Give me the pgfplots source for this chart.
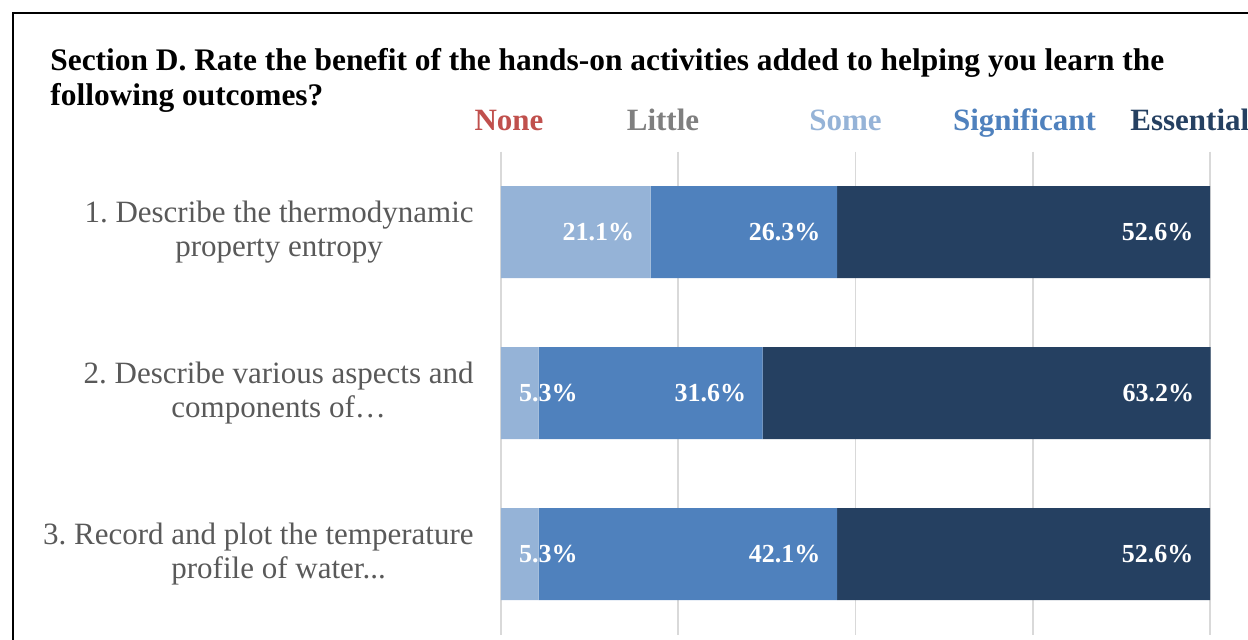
\documentclass[border=0pt]{standalone}
\usepackage{pgfplots}
\pgfplotsset{compat=1.18}
\usepackage{fontspec}
\setmainfont{Liberation Serif}
\frenchspacing
\definecolor{cNone}{HTML}{C0504D}
\definecolor{cLittle}{HTML}{7F7F7F}
\definecolor{cSome}{HTML}{95B3D7}
\definecolor{cSig}{HTML}{4F81BD}
\definecolor{cEss}{HTML}{254061}
\definecolor{cLabel}{HTML}{595959}
\definecolor{cGrid}{HTML}{D9D9D9}
% value labels: nodes sit at the middle of each segment; these boxes put the
% text flush right near the segment's end (half a percent unit = 1.7725pt)
\newdimen\pctunit \pctunit=1.7725pt
\newdimen\labD
\protected\def\lab#1{\labD=#1\pctunit \advance\labD by -8.5pt \hbox to\labD{\hss #1\%}}
\protected\def\inl#1{\hbox to 0pt{\kern-1pt #1\%\hss}}
\begin{document}
\begin{tikzpicture}[x=1pt,y=1pt]
\useasboundingbox (0,0) rectangle (624,319.5);
\draw[line width=1pt] (6.5,-5) -- (6.5,313) -- (640,313);
\node[anchor=base west, inner sep=0pt, font=\bfseries\fontsize{15.7}{17}\selectfont] at (25,284) {Section D. Rate the benefit of the hands-on activities added to helping you learn the};
\node[anchor=base west, inner sep=0pt, font=\bfseries\fontsize{15.7}{17}\selectfont] at (25,266.5) {following outcomes?};
\begin{axis}[
  at={(250.5pt,2.25pt)}, anchor=south west,
  scale only axis, width=354.5pt, height=241.5pt,
  xbar stacked, bar width=46pt,
  xmin=0, xmax=100, ymin=0.5, ymax=3.5, y dir=reverse,
  axis line style={draw=none},
  xtick={0,25,50,75,100}, xticklabels={},
  xmajorgrids, grid style={cGrid, line width=0.8pt},
  major tick length=0pt,
  ytick={1,2,3},
  yticklabels={{1. Describe the thermodynamic\\property entropy},{2. Describe various aspects and\\components of…},{\makebox[195pt][r]{3. Record and plot the temperature}\\\makebox[195pt]{profile of water.{}.{}.}}},
  yticklabel style={align=center, inner sep=0pt, xshift=-13.5pt, font=\fontsize{15.5}{17}\selectfont, text=cLabel},
  every node near coord/.append style={font=\bfseries\fontsize{13}{15}\selectfont, text=white, inner sep=0pt, anchor=west},
  clip=false,
]
\addplot[fill=cNone, draw=none] coordinates {(0,1) (0,2) (0,3)};
\addplot[fill=cLittle, draw=none] coordinates {(0,1) (0,2) (0,3)};
\addplot[fill=cSome, draw=none, point meta=explicit symbolic, nodes near coords]
  coordinates {(21.1,1) [\lab{21.1}] (5.3,2) [\inl{5.3}] (5.3,3) [\inl{5.3}]};
\addplot[fill=cSig, draw=none, point meta=explicit symbolic, nodes near coords]
  coordinates {(26.3,1) [\lab{26.3}] (31.6,2) [\lab{31.6}] (42.1,3) [\lab{42.1}]};
\addplot[fill=cEss, draw=none, point meta=explicit symbolic, nodes near coords]
  coordinates {(52.6,1) [\lab{52.6}] (63.2,2) [\lab{63.2}] (52.6,3) [\lab{52.6}]};
\end{axis}
\begin{scope}[every node/.style={anchor=base, inner sep=0pt, font=\bfseries\fontsize{15.5}{17}\selectfont}]
\node[text=cNone] at (254.5,254.5) {None};
\node[text=cLittle] at (331.5,254.5) {Little};
\node[text=cSome] at (422.75,254.5) {Some};
\node[text=cSig] at (512.25,254.5) {Significant};
\node[text=cEss, anchor=base west] at (565,254.5) {Essential};
\end{scope}
\end{tikzpicture}
\end{document}
